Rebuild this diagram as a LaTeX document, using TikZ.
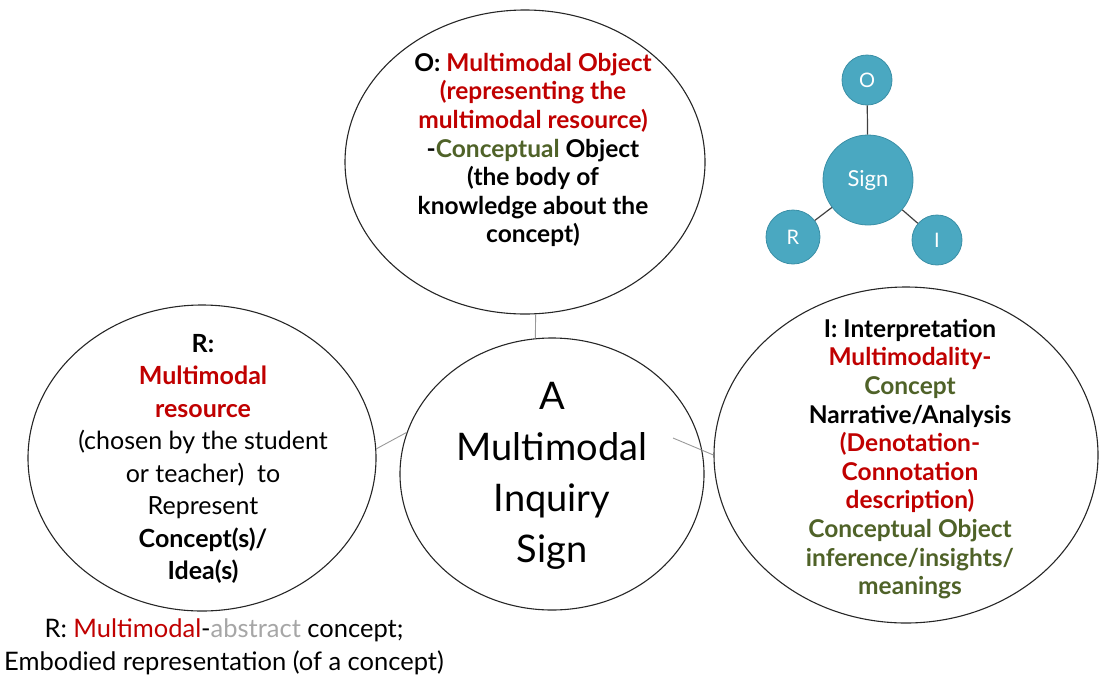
\documentclass[tikz,border=0pt]{standalone}
\usepackage{fontspec}
\setmainfont{Lato}
\usetikzlibrary{shapes.geometric}
\definecolor{dred}{HTML}{C00000}
\definecolor{dolive}{HTML}{4F6228}
\definecolor{softgray}{HTML}{A6A6A6}
\definecolor{signfill}{HTML}{4AA8C1}
\definecolor{signedge}{HTML}{3A8FA6}
\begin{document}
\begin{tikzpicture}[x=1pt,y=-1pt,
  bubble/.style={draw=black!85, line width=1.1pt, ellipse, inner sep=0pt},
  link/.style={draw=black!40, line width=0.9pt},
  boldtxt/.style={align=center, inner sep=0pt, font=\bfseries\fontsize{24.5}{28.6}\selectfont},
  lefttxt/.style={align=center, inner sep=0pt, font=\fontsize{25}{32.5}\selectfont},
  bigtxt/.style={align=center, inner sep=0pt, font=\fontsize{38}{51}\selectfont},
  notetxt/.style={align=center, inner sep=0pt, font=\fontsize{25.5}{33}\selectfont},
  dot/.style={circle, fill=signfill, draw=signedge, line width=0.8pt, text=white, inner sep=0pt, font=\fontsize{20}{20}\selectfont},
  spoke/.style={draw=black!75, line width=1.2pt}
]
\useasboundingbox (0,0) rectangle (1099,675);

% the four ellipses
\node[bubble, minimum width=360pt, minimum height=304pt] (O) at (525,162) {};
\node[bubble, minimum width=304pt, minimum height=272pt] (C) at (552,474) {};
\node[bubble, minimum width=348pt, minimum height=306pt] (R) at (202,458) {};
\node[bubble, minimum width=384pt, minimum height=336pt] (I) at (906,455) {};

% connectors between the ellipses
\coordinate (cin) at (673,438);
\draw[link] (O.-86) -- (C.97);
\draw[link] (R.3) -- (C.164);
\draw[link] (cin) -- (I.180);

% texts inside the ellipses
\node[boldtxt] (Otxt) at (533,150) {%
  O: {\color{dred}Multimodal Object}\\
  {\color{dred}(representing the}\\
  {\color{dred}multimodal resource)}\\
  -{\color{dolive}Conceptual} Object\\
  (the body of\\
  knowledge about the\\
  concept)};

\node[bigtxt] (Ctxt) at (552,476) {A\\Multimodal\\Inquiry\\Sign};

\node[lefttxt] (Rtxt) at (203,459) {%
  \textbf{R:}\\
  \textbf{\color{dred}Multimodal}\\
  \textbf{\color{dred}resource}\\
  (chosen by the student\\
  or teacher)\ \ to\\
  Represent\\
  \textbf{Concept(s)/}\\
  \textbf{Idea(s)}};

\node[boldtxt] (Itxt) at (910,459) {%
  I: Interpretation\\
  {\color{dred}Multimodality-}\\
  {\color{dolive}Concept}\\
  Narrative/Analysis\\
  {\color{dred}(Denotation-}\\
  {\color{dred}Connotation}\\
  {\color{dred}description)}\\
  {\color{dolive}Conceptual Object}\\
  {\color{dolive}inference/insights/}\\
  {\color{dolive}meanings}};

% note under the left ellipse
\node[notetxt] (note) at (224,647) {%
  R: {\color{dred}Multimodal}-{\color{softgray}abstract} concept;\\
  Embodied representation (of a concept)};

% small sign triad
\node[dot, minimum size=90pt, font=\fontsize{22}{22}\selectfont] (sign) at (868,180) {Sign};
\node[dot, minimum size=50pt] (so) at (867,80) {O};
\node[dot, minimum size=54pt] (sr) at (793,237) {R};
\node[dot, minimum size=50pt] (si) at (937,240) {I};
\draw[spoke] (sign) -- (so);
\draw[spoke] (sign) -- (sr);
\draw[spoke] (sign) -- (si);
\end{tikzpicture}
\end{document}
